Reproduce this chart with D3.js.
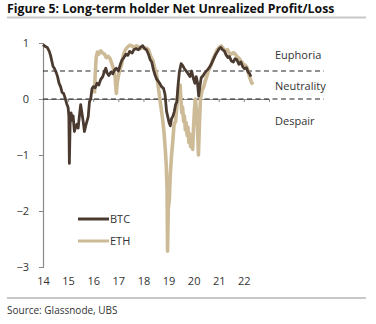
<!DOCTYPE html>
<html>
<head>
<meta charset="utf-8">
<script src="https://cdn.jsdelivr.net/npm/d3@7"></script>
<style>
  body { margin: 0; background: #fff; }
  svg { display: block; font-family: "Open Sans", "Noto Sans", sans-serif; }
</style>
</head>
<body>
<svg id="chart" width="376" height="324"></svg>
<script>
// year (decimal) / value pairs
const btcYears = [2014.00, 2014.08, 2014.17, 2014.25, 2014.30, 2014.36, 2014.40, 2014.45, 2014.52, 2014.58,
  2014.64, 2014.70, 2014.76, 2014.82, 2014.88, 2014.94, 2015.00, 2015.03, 2015.05, 2015.08,
  2015.12, 2015.16, 2015.20, 2015.25, 2015.30, 2015.35, 2015.40, 2015.45, 2015.50, 2015.55,
  2015.60, 2015.65, 2015.70, 2015.75, 2015.80, 2015.85, 2015.90, 2015.95, 2016.00, 2016.08,
  2016.15, 2016.22, 2016.30, 2016.38, 2016.45, 2016.50, 2016.55, 2016.62, 2016.70, 2016.78,
  2016.85, 2016.92, 2017.00, 2017.08, 2017.15, 2017.22, 2017.30, 2017.38, 2017.45, 2017.55,
  2017.62, 2017.70, 2017.80, 2017.90, 2017.97, 2018.05, 2018.12, 2018.20, 2018.27, 2018.33,
  2018.40, 2018.46, 2018.52, 2018.60, 2018.66, 2018.72, 2018.80, 2018.86, 2018.92, 2018.97,
  2019.02, 2019.07, 2019.12, 2019.18, 2019.23, 2019.28, 2019.33, 2019.38, 2019.43, 2019.50,
  2019.56, 2019.62, 2019.70, 2019.78, 2019.85, 2019.92, 2019.98, 2020.05, 2020.10, 2020.15,
  2020.20, 2020.24, 2020.30, 2020.38, 2020.46, 2020.55, 2020.62, 2020.70, 2020.78, 2020.86,
  2020.95, 2021.02, 2021.08, 2021.15, 2021.22, 2021.30, 2021.36, 2021.42, 2021.50, 2021.58,
  2021.65, 2021.72, 2021.80, 2021.88, 2021.95, 2022.02, 2022.10, 2022.17, 2022.22, 2022.28];
const btcValues = [0.97, 0.94, 0.92, 0.85, 0.78, 0.66, 0.58, 0.55, 0.48, 0.40,
  0.28, 0.22, 0.12, 0.10, 0.02, -0.08, -0.15, -0.30, -1.15, -0.45,
  -0.25, -0.38, -0.30, -0.58, -0.50, -0.45, -0.52, -0.30, -0.10, -0.25,
  -0.40, -0.58, -0.48, -0.40, -0.32, -0.05, 0.00, 0.18, 0.22, 0.20,
  0.28, 0.25, 0.35, 0.40, 0.50, 0.55, 0.47, 0.42, 0.48, 0.45,
  0.52, 0.55, 0.50, 0.62, 0.70, 0.74, 0.80, 0.78, 0.85, 0.82,
  0.88, 0.90, 0.88, 0.93, 0.95, 0.90, 0.88, 0.80, 0.70, 0.66,
  0.52, 0.43, 0.36, 0.31, 0.27, 0.22, 0.19, 0.08, -0.22, -0.32,
  -0.42, -0.48, -0.35, -0.30, -0.22, -0.10, -0.05, 0.25, 0.48, 0.63,
  0.60, 0.55, 0.50, 0.45, 0.40, 0.50, 0.38, 0.28, 0.40, 0.30,
  0.05, 0.20, 0.38, 0.42, 0.48, 0.52, 0.56, 0.62, 0.70, 0.78,
  0.85, 0.90, 0.92, 0.88, 0.86, 0.78, 0.74, 0.76, 0.68, 0.66,
  0.72, 0.70, 0.62, 0.66, 0.58, 0.54, 0.56, 0.48, 0.46, 0.40];

const ethYears = [2016.05, 2016.08, 2016.12, 2016.17, 2016.22, 2016.30, 2016.38, 2016.45, 2016.52, 2016.60,
  2016.67, 2016.75, 2016.82, 2016.87, 2016.92, 2016.96, 2017.02, 2017.08, 2017.13, 2017.20,
  2017.27, 2017.35, 2017.45, 2017.53, 2017.62, 2017.72, 2017.80, 2017.88, 2017.96, 2018.05,
  2018.12, 2018.20, 2018.30, 2018.38, 2018.45, 2018.52, 2018.58, 2018.64, 2018.70, 2018.76,
  2018.82, 2018.87, 2018.91, 2018.94, 2018.96, 2018.99, 2019.03, 2019.07, 2019.12, 2019.17,
  2019.22, 2019.28, 2019.33, 2019.36, 2019.40, 2019.43, 2019.46, 2019.50, 2019.53, 2019.56,
  2019.60, 2019.63, 2019.67, 2019.70, 2019.74, 2019.77, 2019.81, 2019.84, 2019.88, 2019.92,
  2019.96, 2019.99, 2020.03, 2020.07, 2020.11, 2020.15, 2020.19, 2020.23, 2020.27, 2020.33,
  2020.40, 2020.46, 2020.52, 2020.58, 2020.64, 2020.70, 2020.78, 2020.86, 2020.94, 2021.02,
  2021.10, 2021.18, 2021.26, 2021.34, 2021.42, 2021.50, 2021.58, 2021.66, 2021.74, 2021.82,
  2021.90, 2021.98, 2022.06, 2022.14, 2022.22, 2022.30, 2022.36];
const ethValues = [0.10, 0.45, 0.75, 0.84, 0.80, 0.86, 0.82, 0.80, 0.74, 0.76,
  0.72, 0.62, 0.52, 0.40, 0.10, 0.30, 0.45, 0.55, 0.62, 0.78,
  0.87, 0.92, 0.96, 0.95, 0.92, 0.95, 0.93, 0.90, 0.93, 0.90,
  0.91, 0.88, 0.75, 0.68, 0.55, 0.45, 0.25, 0.05, -0.15, -0.35,
  -0.60, -0.90, -1.20, -1.60, -2.72, -1.95, -1.80, -1.35, -1.00, -0.75,
  -0.45, -0.40, -0.14, 0.05, 0.22, 0.10, 0.25, -0.05, -0.25, -0.15,
  -0.40, -0.30, -0.55, -0.42, -0.65, -0.50, -0.78, -0.62, -0.85, -0.70,
  -0.90, -0.55, -0.20, 0.00, -0.20, -0.50, -1.00, -0.45, 0.00, 0.15,
  0.22, 0.32, 0.40, 0.50, 0.55, 0.62, 0.72, 0.80, 0.88, 0.92,
  0.95, 0.90, 0.86, 0.88, 0.82, 0.80, 0.83, 0.80, 0.75, 0.72,
  0.67, 0.62, 0.60, 0.55, 0.40, 0.30, 0.26];

const yTicks = [1, 0, -1, -2, -3];
const xTicks = [2014, 2015, 2016, 2017, 2018, 2019, 2020, 2021, 2022];
const zoneLevels = [0.5, 0];
const zoneLabels = ["Euphoria", "Neutrality", "Despair"];
const zoneLabelValues = [0.78, 0.24, -0.4];

const btcColor = "#4a3a2f";
const ethColor = "#cdbb97";

const svg = d3.select("#chart");

// title + rule
svg.append("text").attr("x", 7).attr("y", 13)
  .attr("font-size", 12.3).attr("font-weight", "bold").attr("fill", "#111")
  .text("Figure 5: Long-term holder Net Unrealized Profit/Loss");
svg.append("line").attr("x1", 7).attr("x2", 366).attr("y1", 17.5).attr("y2", 17.5)
  .attr("stroke", "#c8c8c8").attr("stroke-width", 2);

const x = d3.scaleLinear().domain([2014, 2023]).range([43, 269]);
const y = d3.scaleLinear().domain([-3, 1]).range([267, 43]);

// y axis
const yAxis = svg.append("g").attr("transform", "translate(43,0)")
  .call(d3.axisLeft(y).tickValues(yTicks).tickFormat(d3.format("d")).tickSize(4).tickPadding(10));
yAxis.select(".domain").attr("stroke", "#8a8a8a").attr("stroke-width", 1.2);
yAxis.selectAll(".tick line").attr("stroke", "#8a8a8a");
yAxis.selectAll("text").attr("font-size", 11).attr("fill", "#333")
  .attr("font-family", "Open Sans, sans-serif");

// x axis line sits on zero, labels at bottom
const xAxis = svg.append("g").attr("transform", `translate(0,${y(0)})`)
  .call(d3.axisBottom(x).tickValues(xTicks.concat([2023])).tickFormat("").tickSize(3).tickSizeOuter(0));
xAxis.select(".domain").attr("stroke", "#8a8a8a");
xAxis.selectAll(".tick line").attr("stroke", "#8a8a8a");

svg.append("g").selectAll("text").data(xTicks).join("text")
  .attr("x", d => x(d) + 0.5).attr("y", 285)
  .attr("text-anchor", "middle").attr("font-size", 11).attr("fill", "#333")
  .text(d => String(d).slice(2));

// zone dashed lines
svg.append("g").selectAll("line").data(zoneLevels).join("line")
  .attr("x1", 43).attr("x2", 324)
  .attr("y1", d => y(d)).attr("y2", d => y(d))
  .attr("stroke", "#222").attr("stroke-width", 1.1).attr("stroke-dasharray", "5,3.5");

svg.append("g").selectAll("text").data(zoneLabels).join("text")
  .attr("x", 275).attr("y", (d, i) => y(zoneLabelValues[i]) + 4)
  .attr("font-size", 11).attr("fill", "#333")
  .text(d => d);

// series
const line = d3.line().x(d => x(d[0])).y(d => y(d[1]));
const ethData = ethYears.map((d, i) => [d, ethValues[i]]);
const btcData = btcYears.map((d, i) => [d, btcValues[i]]);

svg.append("path").datum(ethData).attr("d", line)
  .attr("fill", "none").attr("stroke", ethColor).attr("stroke-width", 3.6)
  .attr("stroke-linejoin", "round");
svg.append("path").datum(btcData).attr("d", line)
  .attr("fill", "none").attr("stroke", btcColor).attr("stroke-width", 2.8)
  .attr("stroke-linejoin", "round");

// legend
const legend = [["BTC", btcColor, 219], ["ETH", ethColor, 241]];
legend.forEach(([name, col, ly]) => {
  svg.append("line").attr("x1", 78).attr("x2", 109).attr("y1", ly).attr("y2", ly)
    .attr("stroke", col).attr("stroke-width", 3);
  svg.append("text").attr("x", 110).attr("y", ly + 4)
    .attr("font-size", 11).attr("fill", "#333").text(name);
});

// footer
svg.append("line").attr("x1", 7).attr("x2", 366).attr("y1", 298).attr("y2", 298)
  .attr("stroke", "#c8c8c8").attr("stroke-width", 2);
svg.append("text").attr("x", 7).attr("y", 314)
  .attr("font-size", 10).attr("fill", "#333")
  .text("Source: Glassnode, UBS");
</script>
</body>
</html>
